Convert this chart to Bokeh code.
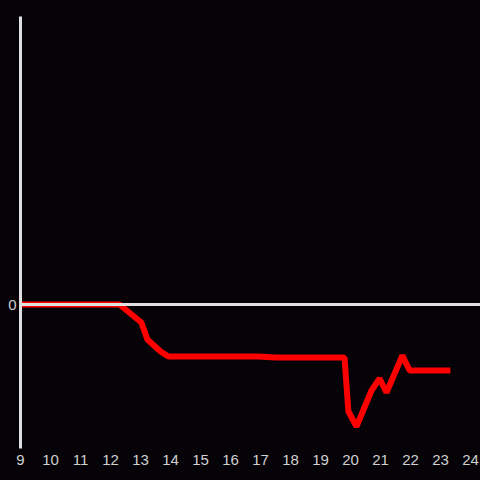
from bokeh.plotting import figure
from bokeh.models import Span, FixedTicker, Range1d
from bokeh.embed import file_html
from bokeh.resources import INLINE

hours = [9.0, 12.3, 13.03, 13.23, 13.67, 13.93, 16.93, 17.5, 19.8, 19.93, 20.2, 20.7, 20.97, 21.2, 21.73, 21.97, 23.33]
values = [0.0, 0.0, -1.8, -3.5, -4.7, -5.2, -5.2, -5.3, -5.3, -10.7, -12.2, -8.6, -7.4, -8.8, -5.1, -6.6, -6.6]
x_ticks = list(range(9, 25))
y_ticks = [0]

BG = "#050307"
AX = "#e0e0e0"
TXT = "#d0d0d0"

p = figure(frame_width=460, frame_height=432, output_backend="svg", toolbar_location=None,
           x_range=Range1d(9, 24.3333), y_range=Range1d(-14.4, 28.8),
           min_border_left=20, min_border_right=0, min_border_top=16, min_border_bottom=32)
p.background_fill_color = BG
p.border_fill_color = BG
p.outline_line_color = None
p.grid.visible = False

zero = Span(location=0, dimension="width", line_color=AX, line_width=3)
p.add_layout(zero)

p.line(hours, values, line_color="#ff0000", line_width=6)

xa = p.xaxis[0]
xa.ticker = FixedTicker(ticks=x_ticks)
xa.axis_line_color = None
xa.major_tick_line_color = None
xa.minor_tick_line_color = None
xa.major_tick_out = 0
xa.major_label_standoff = 6
xa.major_label_text_color = TXT
xa.major_label_text_font = "Liberation Sans"
xa.major_label_text_font_size = "15px"

ya = p.yaxis[0]
ya.ticker = FixedTicker(ticks=y_ticks)
ya.axis_line_color = AX
ya.axis_line_width = 3
ya.major_tick_line_color = None
ya.minor_tick_line_color = None
ya.major_tick_out = 0
ya.major_label_standoff = 4
ya.major_label_text_color = TXT
ya.major_label_text_font = "Liberation Sans"
ya.major_label_text_font_size = "15px"

html = file_html(p, INLINE)
html = html.replace("<body>", '<body style="background-color:%s">' % BG)
open("out.html", "w").write(html)
